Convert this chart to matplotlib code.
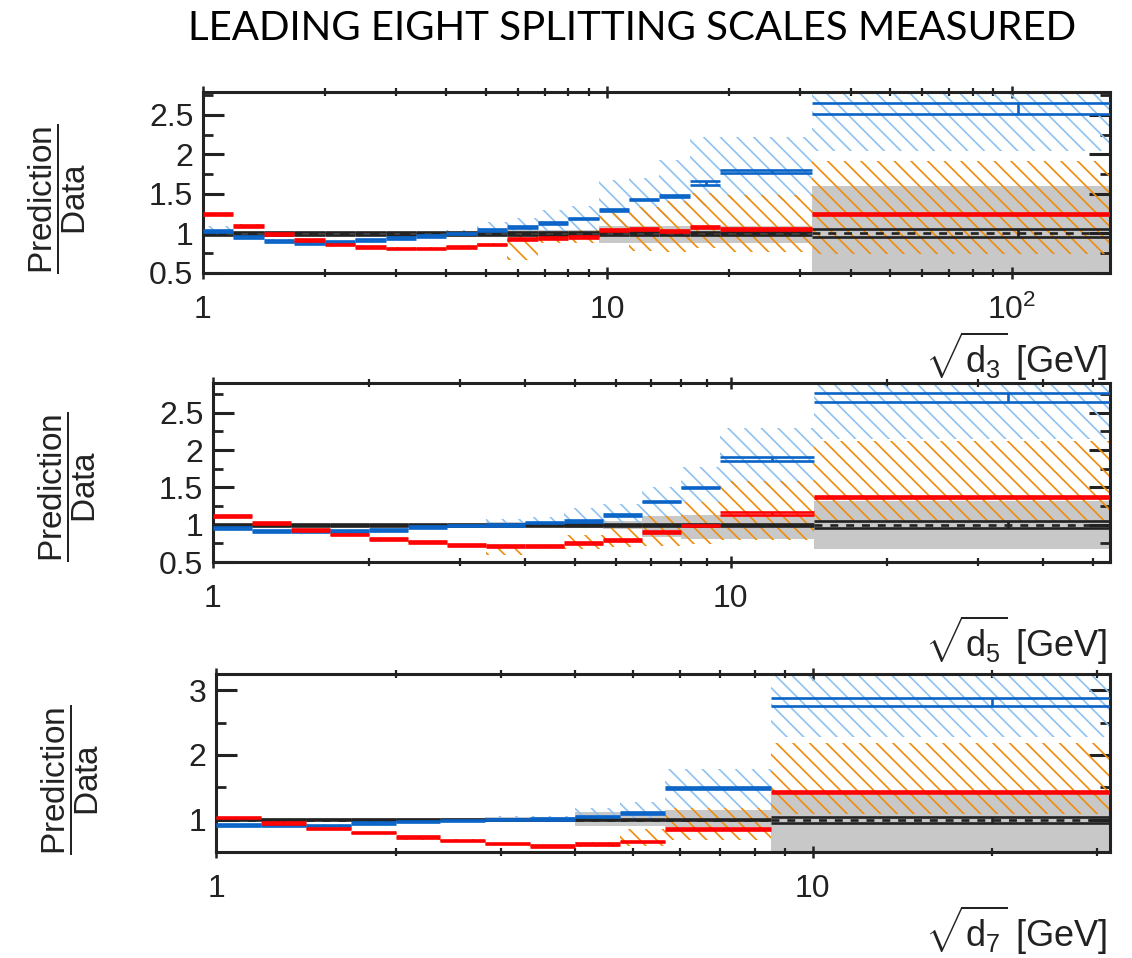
import numpy as np
import matplotlib
matplotlib.use("Agg")
import matplotlib.pyplot as plt

plt.rcParams['font.family'] = ['Liberation Sans', 'DejaVu Sans']
plt.rcParams['mathtext.fontset'] = 'custom'
plt.rcParams['mathtext.rm'] = 'Liberation Sans'
plt.rcParams['mathtext.it'] = 'Liberation Sans:italic'
plt.rcParams['mathtext.bf'] = 'Liberation Sans:bold'
plt.rcParams['hatch.linewidth'] = 1.2

TITLE = "LEADING EIGHT SPLITTING SCALES MEASURED"
YLABEL = r'$\dfrac{\mathrm{Prediction}}{\mathrm{Data}}$'

# ---------------- sqrt(d3) ----------------
d3_edges = [1.0, 1.189, 1.414, 1.682, 2.0, 2.378, 2.828, 3.364, 4.0, 4.757,
            5.657, 6.727, 8.0, 9.514, 11.31, 13.45, 16.0, 19.03, 32.0, 175.0]
d3_red = [1.25, 1.10, 0.99, 0.92, 0.86, 0.83, 0.81, 0.81, 0.83, 0.86,
          0.93, 0.94, 0.96, 1.04, 1.06, 1.03, 1.085, 1.06, 1.25]
d3_red_err = [0.012] * 18 + [0.015]
d3_blue = [1.03, 0.955, 0.91, 0.88, 0.895, 0.915, 0.945, 0.97, 1.0, 1.045,
           1.085, 1.13, 1.19, 1.30, 1.43, 1.47, 1.64, 1.78, 2.58]
d3_blue_err = [0.012] * 16 + [0.027, 0.018, 0.07]
d3_black = [1.0] * 18 + [1.005]
d3_black_err = [0.013] * 18 + [0.055]
d3_blue_lo = [0.97, 0.94, 0.90, 0.87, 0.88, 0.90, 0.93, 0.955, 0.97, 0.97,
              0.98, 1.0, 1.03, 1.08, 1.15, 1.2, 1.35, 1.42, 2.04]
d3_blue_hi = [1.09, 0.97, 0.925, 0.895, 0.91, 0.93, 0.96, 0.99, 1.05, 1.15,
              1.20, 1.30, 1.35, 1.68, 1.70, 1.93, 2.22, 2.22, 3.5]
d3_orange_lo = [1.235, 1.085, 0.975, 0.905, 0.845, 0.815, 0.795, 0.795, 0.815, 0.845,
                0.67, 0.88, 0.88, 0.97, 0.78, 0.76, 0.81, 0.76, 0.74]
d3_orange_hi = [1.265, 1.115, 1.005, 0.935, 0.875, 0.845, 0.825, 0.825, 0.845, 0.875,
                1.0, 1.0, 1.05, 1.26, 1.34, 1.41, 1.51, 1.49, 1.92]
d3_grey_lo = [0.985] * 8 + [0.98, 0.97, 0.95, 0.95, 0.95, 0.88, 0.88, 0.88, 0.88, 0.88, 0.4]
d3_grey_hi = [1.015] * 8 + [1.02, 1.03, 1.05, 1.05, 1.05, 1.09, 1.09, 1.09, 1.09, 1.09, 1.6]

# ---------------- sqrt(d5) ----------------
d5_edges = [1.0, 1.189, 1.414, 1.682, 2.0, 2.378, 2.828, 3.364, 4.0, 4.757,
            5.657, 6.727, 8.0, 9.514, 14.5, 54.0]
d5_red = [1.12, 1.02, 0.93, 0.87, 0.81, 0.765, 0.73, 0.715, 0.715, 0.755,
          0.79, 0.90, 0.99, 1.15, 1.37]
d5_red_err = [0.012] * 13 + [0.015, 0.015]
d5_blue = [0.96, 0.92, 0.92, 0.92, 0.93, 0.97, 0.99, 1.0, 1.03, 1.055,
           1.125, 1.31, 1.50, 1.885, 2.70]
d5_blue_err = [0.012] * 13 + [0.025, 0.06]
d5_black = [1.0] * 15
d5_black_err = [0.013] * 14 + [0.05]
d5_blue_lo = [0.945, 0.905, 0.905, 0.905, 0.915, 0.955, 0.975, 0.97, 0.98, 0.98,
              1.0, 1.12, 1.3, 1.5, 2.15]
d5_blue_hi = [0.975, 0.935, 0.935, 0.935, 0.945, 0.985, 1.01, 1.08, 1.10, 1.23,
              1.28, 1.50, 1.77, 2.30, 3.5]
d5_orange_lo = [1.105, 1.005, 0.915, 0.855, 0.795, 0.75, 0.715, 0.59, 0.70, 0.68,
                0.70, 0.72, 0.74, 0.79, 1.03]
d5_orange_hi = [1.135, 1.035, 0.945, 0.885, 0.825, 0.78, 0.745, 0.73, 0.73, 0.86,
                0.95, 1.12, 1.30, 1.59, 2.12]
d5_grey_lo = [0.985] * 7 + [0.97, 0.97, 0.96, 0.94, 0.84, 0.81, 0.81, 0.68]
d5_grey_hi = [1.015] * 7 + [1.03, 1.03, 1.04, 1.05, 1.12, 1.13, 1.13, 1.32]

# ---------------- sqrt(d7) ----------------
d7_edges = [1.0, 1.189, 1.414, 1.682, 2.0, 2.378, 2.828, 3.364, 4.0, 4.757,
            5.657, 8.5, 31.5]
d7_red = [1.03, 0.95, 0.86, 0.80, 0.73, 0.68, 0.63, 0.59, 0.62, 0.66, 0.86, 1.43]
d7_red_err = [0.012] * 10 + [0.015, 0.015]
d7_blue = [0.92, 0.91, 0.91, 0.95, 0.97, 0.99, 1.0, 1.01, 1.05, 1.10, 1.49, 2.82]
d7_blue_err = [0.012] * 11 + [0.06]
d7_black = [1.0] * 11 + [0.99]
d7_black_err = [0.013] * 11 + [0.045]
d7_blue_lo = [0.905, 0.895, 0.895, 0.935, 0.955, 0.975, 0.98, 0.98, 1.0, 1.0, 1.18, 2.28]
d7_blue_hi = [0.935, 0.925, 0.925, 0.965, 0.985, 1.02, 1.05, 1.06, 1.18, 1.28, 1.78, 3.5]
d7_orange_lo = [1.015, 0.935, 0.845, 0.785, 0.69, 0.665, 0.615, 0.575, 0.58, 0.60, 0.69, 1.08]
d7_orange_hi = [1.045, 0.965, 0.875, 0.815, 0.745, 0.695, 0.645, 0.605, 0.66, 0.85, 1.18, 2.18]
d7_grey_lo = [0.98] * 6 + [0.96, 0.96, 0.90, 0.90, 0.88, 0.4]
d7_grey_hi = [1.02] * 6 + [1.04, 1.04, 1.12, 1.12, 1.15, 1.38]

INK = '#222222'
BLUE = '#0a64c8'
RED = '#ff0000'
BLUE_HATCH = '#8ec2f0'
ORANGE_HATCH = '#ef8c0c'
GREY = '#c8c8c8'


def band(ax, edges, lo, hi, **kw):
    e = np.asarray(edges, float)
    lo = np.asarray(lo, float)
    hi = np.asarray(hi, float)
    ax.bar(e[:-1], hi - lo, width=np.diff(e), bottom=lo, align='edge', **kw)


def series(ax, edges, vals, errs, color, z, dashed_centre=False):
    e = np.asarray(edges, float)
    v = np.asarray(vals, float)
    er = np.asarray(errs, float)
    left, right = e[:-1], e[1:]
    ax.hlines(v - er, left, right, colors=color, lw=1.9, zorder=z)
    ax.hlines(v + er, left, right, colors=color, lw=1.9, zorder=z)
    centre = 0.5 * (left + right)
    ax.vlines(centre, v - er, v + er, colors=color, lw=1.9, zorder=z)
    if dashed_centre:
        ax.hlines(v, left, right, colors=color, lw=1.9, linestyles=(0, (3, 3)), zorder=z)


def panel(ax, edges, grey_lo, grey_hi, blue_lo, blue_hi, orange_lo, orange_hi,
          black, black_err, blue, blue_err, red, red_err):
    band(ax, edges, grey_lo, grey_hi, color=GREY, lw=0, zorder=1)
    band(ax, edges, blue_lo, blue_hi, facecolor='none', edgecolor=BLUE_HATCH,
         hatch='\\\\', lw=0, zorder=2)
    band(ax, edges, orange_lo, orange_hi, facecolor='none', edgecolor=ORANGE_HATCH,
         hatch='\\\\', lw=0, zorder=2.5)
    series(ax, edges, black, black_err, INK, 3, dashed_centre=True)
    series(ax, edges, blue, blue_err, BLUE, 4)
    series(ax, edges, red, red_err, RED, 5)


def style(ax, xlim, ylim, xticks, xlabels, yticks, ylabels, yminor):
    ax.set_xscale('log')
    ax.set_xlim(*xlim)
    ax.set_ylim(*ylim)
    ax.set_xticks(xticks, xlabels)
    minors = [m * 10 ** p for p in range(0, 3) for m in range(2, 10)]
    ax.set_xticks([m for m in minors if xlim[0] < m < xlim[1]], minor=True)
    ax.set_yticks(yticks, ylabels)
    ax.set_yticks(yminor, minor=True)
    for s in ax.spines.values():
        s.set_linewidth(2.2)
        s.set_color(INK)
    ax.tick_params(axis='x', which='major', direction='inout', length=9, width=1.8,
                   top=True, bottom=True, pad=11, labelsize=23, colors=INK)
    ax.tick_params(axis='x', which='minor', direction='inout', length=6, width=1.6,
                   top=True, bottom=True, colors=INK)
    ax.tick_params(axis='y', which='major', direction='in', length=15, width=2.2,
                   left=True, right=True, pad=7, labelsize=23, colors=INK)
    ax.tick_params(axis='y', which='minor', direction='in', length=7.5, width=2.0,
                   left=True, right=True, colors=INK)


W, H = 1132, 958
fig = plt.figure(figsize=(W / 100, H / 100), dpi=100)


def axes_px(left, right, top, bottom):
    return fig.add_axes([left / W, 1 - bottom / H, (right - left) / W, (bottom - top) / H])


ax1 = axes_px(203, 1110, 92, 273)
ax2 = axes_px(213, 1110, 383, 562)
ax3 = axes_px(216, 1110, 674, 852)

panel(ax1, d3_edges, d3_grey_lo, d3_grey_hi, d3_blue_lo, d3_blue_hi, d3_orange_lo, d3_orange_hi,
      d3_black, d3_black_err, d3_blue, d3_blue_err, d3_red, d3_red_err)
panel(ax2, d5_edges, d5_grey_lo, d5_grey_hi, d5_blue_lo, d5_blue_hi, d5_orange_lo, d5_orange_hi,
      d5_black, d5_black_err, d5_blue, d5_blue_err, d5_red, d5_red_err)
panel(ax3, d7_edges, d7_grey_lo, d7_grey_hi, d7_blue_lo, d7_blue_hi, d7_orange_lo, d7_orange_hi,
      d7_black, d7_black_err, d7_blue, d7_blue_err, d7_red, d7_red_err)

yt_a = [0.5, 1, 1.5, 2, 2.5]
yl_a = ['0.5', '1', '1.5', '2', '2.5']
style(ax1, (d3_edges[0], d3_edges[-1]), (0.5, 2.79), [1, 10, 100], ['1', '10', r'$10^2$'],
      yt_a, yl_a, [0.75, 1.25, 1.75, 2.25, 2.75])
style(ax2, (d5_edges[0], d5_edges[-1]), (0.5, 2.90), [1, 10], ['1', '10'],
      yt_a, yl_a, [0.75, 1.25, 1.75, 2.25, 2.75])
style(ax3, (d7_edges[0], d7_edges[-1]), (0.5, 3.25), [1, 10], ['1', '10'],
      [1, 2, 3], ['1', '2', '3'], [1.5, 2.5])

xlabels = [r'$\sqrt{\mathrm{d}_{3}}$ [GeV]', r'$\sqrt{\mathrm{d}_{5}}$ [GeV]',
           r'$\sqrt{\mathrm{d}_{7}}$ [GeV]']
for lab, ypx in zip(xlabels, [356, 640, 930]):
    fig.text(1107 / W, 1 - ypx / H, lab, ha='right', va='center', fontsize=26, color=INK)

for xpx, ypx in [(57, 199), (67, 487), (70, 780)]:
    fig.text(xpx / W, 1 - ypx / H, YLABEL, rotation=90, ha='center', va='center',
             fontsize=24, color=INK)

fig.text(632 / W, 1 - 28 / H, TITLE, ha='center', va='center', fontsize=29,
         family=['Lato', 'DejaVu Sans'], color='black')

fig.savefig('out.png', dpi=100)
